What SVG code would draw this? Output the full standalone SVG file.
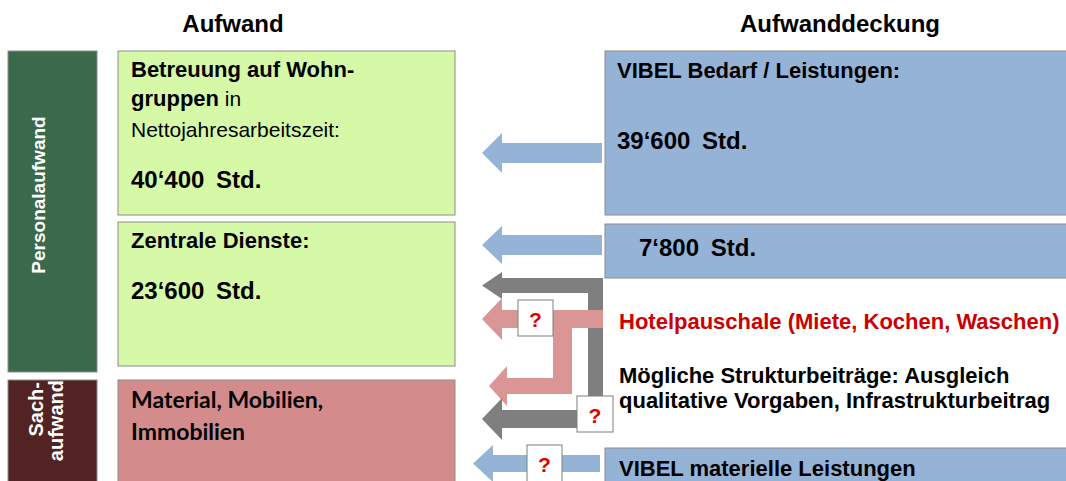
<svg xmlns="http://www.w3.org/2000/svg" width="1066" height="481" viewBox="0 0 1066 481">
<style>
.t{font-family:"Liberation Sans",Arial,sans-serif;fill:#000}
.b{font-weight:bold;font-size:22px}
.v{font-weight:bold;font-size:24px;word-spacing:5px}
.h{font-family:"Liberation Sans",Arial,sans-serif;font-weight:bold;font-size:24px;text-anchor:middle}
.bx{stroke:#8c8c8c;stroke-width:1}
.green{fill:#d6f9a8}
.blue{fill:#95b3d7}
.q{fill:#fff;stroke:#7f7f7f;stroke-width:1}
.qt{font-family:"Liberation Sans",Arial,sans-serif;font-weight:bold;font-size:21px;fill:#e00000;text-anchor:middle}
.side{font-family:"Liberation Sans",Arial,sans-serif;font-weight:bold;fill:#fff}
.cal{font-family:Lato,"Open Sans",sans-serif;font-weight:bold;font-size:23px;fill:#000}
</style>
<rect width="1066" height="481" fill="#fff"/>
<text class="h" x="233" y="32">Aufwand</text>
<text class="h" x="840" y="32">Aufwanddeckung</text>

<g id="personalaufwand">
<rect x="8" y="51" width="89" height="321" fill="#3a6a4b" class="bx"/>
<text class="side" font-size="19" text-anchor="middle" transform="translate(45,195) rotate(-90)">Personalaufwand</text>
</g>
<g id="sachaufwand">
<rect x="8" y="380" width="89" height="110" fill="#532323" class="bx"/>
<text class="side" font-size="20" text-anchor="end" transform="translate(43,382) rotate(-90)">Sach-</text>
<text class="side" font-size="20" text-anchor="end" transform="translate(63,380) rotate(-90)">aufwand</text>
</g>

<g id="betreuung">
<rect x="118" y="51" width="337" height="164" class="bx green"/>
<text class="t b" x="131" y="77">Betreuung auf Wohn-</text>
<text class="t" x="131" y="106" font-size="21"><tspan font-weight="bold" font-size="22">gruppen</tspan> in</text>
<text class="t" x="131" y="137" font-size="21">Nettojahresarbeitszeit:</text>
<text class="t v" x="131" y="188">40‘400 Std.</text>
</g>
<g id="zentrale">
<rect x="118" y="222" width="337" height="144" class="bx green"/>
<text class="t b" x="131" y="248">Zentrale Dienste:</text>
<text class="t v" x="131" y="299">23‘600 Std.</text>
</g>
<g id="material">
<rect x="118" y="380" width="337" height="110" fill="#d38c8b" class="bx"/>
<text class="cal" x="131" y="408">Material, Mobilien,</text>
<text class="cal" x="131" y="440">Immobilien</text>
</g>

<g id="vibel-bedarf">
<rect x="605" y="51" width="470" height="164" class="bx blue"/>
<text class="t b" x="617" y="78">VIBEL Bedarf / Leistungen:</text>
<text class="t v" x="617" y="149">39‘600 Std.</text>
</g>
<g id="std7800">
<rect x="605" y="224" width="470" height="54" class="bx blue"/>
<text class="t v" x="639" y="256">7‘800 Std.</text>
</g>
<g id="hotelpauschale">
<text class="t b" x="619" y="329" style="fill:#cc0000">Hotelpauschale (Miete, Kochen, Waschen)</text>
</g>
<g id="strukturbeitraege">
<text class="t b" x="619" y="383">Mögliche Strukturbeiträge: Ausgleich</text>
<text class="t b" x="619" y="408">qualitative Vorgaben, Infrastrukturbeitrag</text>
</g>
<g id="vibel-materiell">
<rect x="605" y="448" width="470" height="45" class="bx blue"/>
<text class="t b" x="619" y="476">VIBEL materielle Leistungen</text>
</g>

<g id="connectors">
<polygon fill="#95b3d7" points="482,153 502,133 502,143 602,143 602,163 502,163 502,173"/>
<polygon fill="#95b3d7" points="482,245 502,226 502,235 602,235 602,255 502,255 502,264"/>
<polygon fill="#7f7f7f" points="482,285.5 502,272 502,278 603,278 603,428 588,428 588,293 502,293 502,299"/>
<polygon fill="#d99694" points="482,319 502,298 502,310 603,310 603,328 572,328 572,394 507,394 507,406 489,386 507,366 507,378 553,378 553,328 502,328 502,340"/>
<polygon fill="#7f7f7f" points="482,419 502,398 502,410 600,410 600,428 502,428 502,440"/>
<polygon fill="#95b3d7" points="473,463.5 493,445 493,455 600,455 600,472 493,472 493,482"/>
<g id="q1"><rect x="518" y="300" width="35" height="36" class="q"/><text class="qt" x="535.5" y="327">?</text></g>
<g id="q2"><rect x="577" y="396" width="36" height="36" class="q"/><text class="qt" x="595" y="423">?</text></g>
<g id="q3"><rect x="527" y="445" width="35" height="40" class="q"/><text class="qt" x="544.5" y="472">?</text></g>
</g>
</svg>
